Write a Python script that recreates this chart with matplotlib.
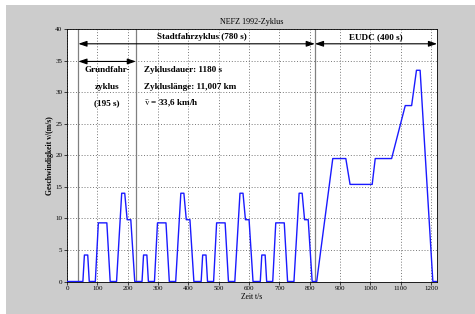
import matplotlib
matplotlib.use("Agg")
import matplotlib.pyplot as plt
from matplotlib.patches import Rectangle

plt.rcParams['font.family'] = ['Liberation Serif', 'DejaVu Serif']
plt.rcParams['mathtext.fontset'] = 'stix'

# Breakpoints of the speed trace (Zeit in s, Geschwindigkeit in m/s)
t_ece = [0, 52, 57, 68, 73, 93, 103, 131, 142, 163, 180, 190, 198, 210, 223,
         247, 252, 263, 268, 288, 298, 326, 337, 358, 375, 385, 393, 405, 418,
         442, 447, 458, 463, 483, 493, 521, 532, 553, 570, 580, 588, 600, 613,
         637, 642, 653, 658, 678, 688, 716, 727, 748, 765, 775, 783, 795, 808]
v_ece = [0, 0, 4.2, 4.2, 0, 0, 9.3, 9.3, 0, 0, 14.0, 14.0, 9.8, 9.8, 0,
         0, 4.2, 4.2, 0, 0, 9.3, 9.3, 0, 0, 14.0, 14.0, 9.8, 9.8, 0,
         0, 4.2, 4.2, 0, 0, 9.3, 9.3, 0, 0, 14.0, 14.0, 9.8, 9.8, 0,
         0, 4.2, 4.2, 0, 0, 9.3, 9.3, 0, 0, 14.0, 14.0, 9.8, 9.8, 0]
t_eudc = [823, 876, 919, 933, 1006, 1016, 1070, 1115, 1136, 1152, 1164, 1206, 1220]
v_eudc = [0, 19.5, 19.5, 15.4, 15.4, 19.5, 19.5, 27.9, 27.9, 33.5, 33.5, 0, 0]

t_marks = [37, 227, 817, 1220]
info_lines = ["Zyklusdauer: 1180 s", "Zykluslänge: 11,007 km",
              r"$\bar{\mathrm{v}}$ = 33,6 km/h"]
grund_lines = ["Grundfahr-", "zyklus", "(195 s)"]
text_y = [33.5, 30.8, 28.3]

fig = plt.figure(figsize=(4.75, 3.14), dpi=100, facecolor='white')
fig.patches.append(Rectangle((6 / 475, 0), 1, 1 - 5 / 314, transform=fig.transFigure,
                             facecolor='#cccccc', edgecolor='none', zorder=-10))
ax = fig.add_axes([0.1413, 0.1035, 0.7789, 0.8032])
ax.set_facecolor('white')

ax.plot(t_ece + t_eudc, v_ece + v_eudc, color='#1a1aff', lw=1.0, zorder=3)

ax.set_xlim(0, 1220)
ax.set_ylim(0, 40)
ax.set_xticks(range(0, 1201, 100))
ax.set_yticks(range(0, 41, 5))
ax.grid(True, color='#666666', linestyle=(0, (1.2, 2.2)), lw=0.6)
ax.tick_params(labelsize=5, length=2, width=0.5, pad=1.5)
for s in ax.spines.values():
    s.set_linewidth(0.6)

for tm in t_marks[:3]:
    ax.axvline(tm, color='#808080', lw=0.9, zorder=2)

arrow = dict(arrowstyle='<|-|>,head_length=0.5,head_width=0.17', color='k', lw=0.8,
             mutation_scale=10, shrinkA=0, shrinkB=0)
ax.annotate('', xy=(t_marks[0], 37.7), xytext=(t_marks[2], 37.7), arrowprops=arrow)
ax.annotate('', xy=(t_marks[2], 37.7), xytext=(t_marks[3], 37.7), arrowprops=arrow)
ax.annotate('', xy=(t_marks[0], 34.9), xytext=(t_marks[1], 34.9), arrowprops=arrow)

bold = dict(fontsize=6.6, fontweight='bold')
ax.text(445, 38.8, "Stadtfahrzyklus (780 s)", ha='center', va='center', **bold)
ax.text(1017, 38.8, "EUDC (400 s)", ha='center', va='center', **bold)
for line, y in zip(grund_lines, text_y):
    ax.text(132, y, line, ha='center', va='center', **bold)
for line, y in zip(info_lines, text_y):
    ax.text(253, y, line, ha='left', va='center', **bold)

ax.set_title("NEFZ 1992-Zyklus", fontsize=5.8, pad=4)
ax.set_xlabel("Zeit t/s", fontsize=5.5, labelpad=1)
ax.set_ylabel("Geschwindigkeit v/(m/s)", fontsize=5.5, fontweight='bold', labelpad=1)

fig.savefig("out.png", dpi=100, facecolor=fig.get_facecolor())
